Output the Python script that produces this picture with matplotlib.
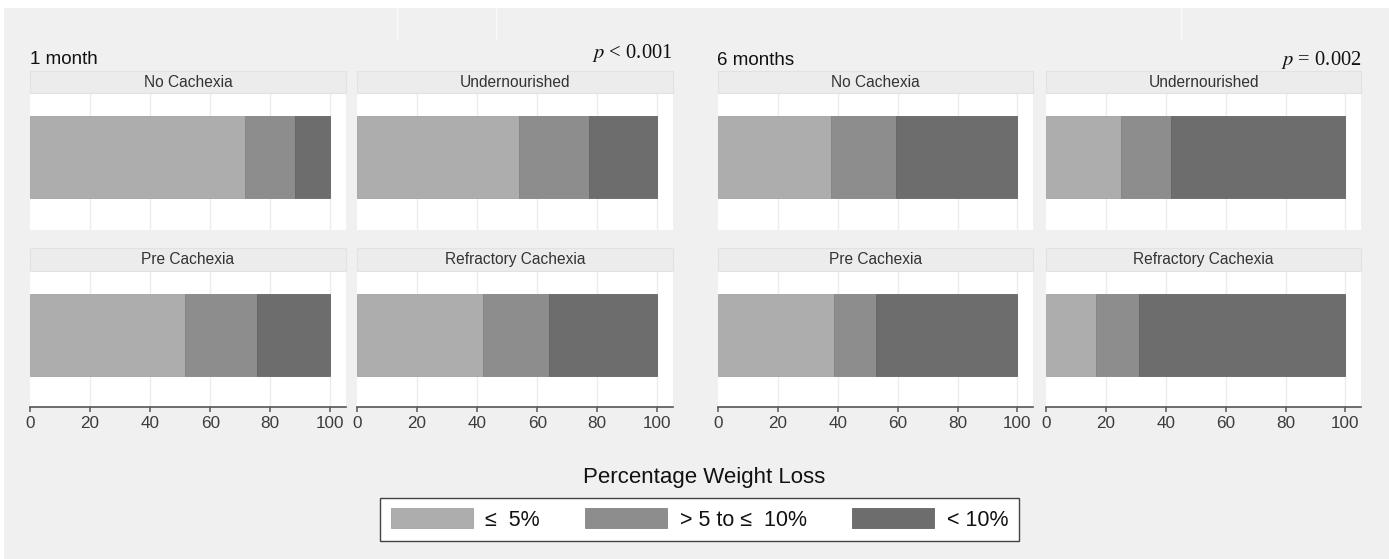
import matplotlib
matplotlib.use("Agg")
import matplotlib.pyplot as plt
from matplotlib.patches import Rectangle, Patch
from matplotlib.lines import Line2D

plt.rcParams['font.family'] = ['Liberation Sans', 'DejaVu Sans']
plt.rcParams['mathtext.fontset'] = 'stix'

# ---------------- data ----------------
periods = ['1 month', '6 months']
p_labels = ['$p$ < 0.001', '$p$ = 0.002']
groups = ['No Cachexia', 'Undernourished', 'Pre Cachexia', 'Refractory Cachexia']
series_labels = ['\u2264  5%', '> 5 to \u2264  10%', '< 10%']
series_colors = ['#adadad', '#8d8d8d', '#6d6d6d']
edge_colors = ['#a2a2a2', '#848484', '#646464']

# percentages per group (order of `groups`)
le5_1m = [71.5, 53.8, 51.6, 41.9]
mid_1m = [16.8, 23.3, 24.1, 21.9]
gt10_1m = [11.7, 22.9, 24.3, 36.2]

le5_6m = [37.7, 24.9, 38.8, 16.7]
mid_6m = [21.8, 16.9, 13.9, 14.5]
gt10_6m = [40.5, 58.2, 47.3, 68.8]

data = [[le5_1m, mid_1m, gt10_1m], [le5_6m, mid_6m, gt10_6m]]
ticks = [0, 20, 40, 60, 80, 100]

# ---------------- layout ----------------
W, H = 1389, 559
fig = plt.figure(figsize=(W / 100, H / 100), dpi=100)
fig.patch.set_facecolor('white')

def fx(px):
    return px / W

def fy(py):
    return 1 - py / H

fig.add_artist(Rectangle((fx(4), 0), 1 - fx(4), fy(8), transform=fig.transFigure,
                         facecolor='#f0f0f0', edgecolor='none', zorder=-10))
for xl in [397, 496, 1181]:
    fig.add_artist(Line2D([fx(xl), fx(xl)], [fy(8), fy(40)], transform=fig.transFigure,
                          color='#fafafa', lw=1, zorder=-5))

col_x = [[(30, 346), (357, 673)], [(718, 1033), (1046, 1361)]]
rows_y = [(93, 230), (271, 407)]
strip_y = [(71, 93), (248, 271)]
title_info = [((30, 64), (673, 58)), ((717, 65), (1362, 65))]

for pi in range(2):
    (tx, ty), (px_, py_) = title_info[pi]
    fig.text(fx(tx), fy(ty), periods[pi], ha='left', va='baseline', fontsize=13.5, color='#111111')
    fig.text(fx(px_), fy(py_), p_labels[pi], ha='right', va='baseline', fontsize=14.8,
             family=['Liberation Serif', 'DejaVu Serif'], color='#111111')
    for gi, g in enumerate(groups):
        r, c = divmod(gi, 2)
        x0, x1 = col_x[pi][c]
        y0, y1 = rows_y[r]
        s0, s1 = strip_y[r]
        # strip
        fig.add_artist(Rectangle((fx(x0), fy(s1)), fx(x1 - x0), (s1 - s0) / H,
                                 transform=fig.transFigure, facecolor='#ececec',
                                 edgecolor='#e2e2e2', lw=0.8, zorder=1))
        fig.text(fx((x0 + x1) / 2), fy((s0 + s1) / 2 + 0.5), g, ha='center', va='center',
                 fontsize=11.2, color='#333333')
        ax = fig.add_axes([fx(x0), fy(y1), fx(x1 - x0), (y1 - y0) / H])
        ax.set_facecolor('white')
        left = 0
        for si in range(3):
            v = data[pi][si][gi]
            ax.barh(0.53, v, left=left, height=0.6, color=series_colors[si],
                    edgecolor=edge_colors[si], linewidth=0.6, zorder=3)
            left += v
        ax.set_xlim(0, 105.2)
        ax.set_ylim(0, 1)
        ax.set_yticks([])
        for t in ticks[1:]:
            ax.axvline(t, color='#ececec', lw=1, zorder=1)
        for sp in ['top', 'right', 'left']:
            ax.spines[sp].set_visible(False)
        if r == 0:
            ax.spines['bottom'].set_visible(False)
            ax.set_xticks([])
        else:
            ax.spines['bottom'].set_color('#555555')
            ax.spines['bottom'].set_linewidth(1.2)
            ax.set_xticks(ticks)
            ax.set_xticklabels([str(t) for t in ticks])
            ax.tick_params(axis='x', direction='out', length=3.8, width=1.1, color='#555555',
                           labelsize=12.3, labelcolor='#3c3c3c', pad=2.6)

# legend
fig.text(fx(704), fy(478), 'Percentage Weight Loss', ha='center', va='center',
         fontsize=16, color='#111111')
handles = [Patch(facecolor=series_colors[i], edgecolor=edge_colors[i], linewidth=0.6)
           for i in range(3)]
leg = fig.legend(handles, series_labels, loc='center', bbox_to_anchor=(fx(699.5), fy(519.5)),
                 ncol=3, frameon=True, fancybox=False, edgecolor='#444444', facecolor='white',
                 framealpha=1, fontsize=15.5, handlelength=3.8, handleheight=1.0,
                 handletextpad=0.58, columnspacing=2.12, borderpad=0.5)
leg.get_frame().set_linewidth(1.0)
for txt in leg.get_texts():
    txt.set_color('#111111')

fig.savefig('out.png', dpi=100)
